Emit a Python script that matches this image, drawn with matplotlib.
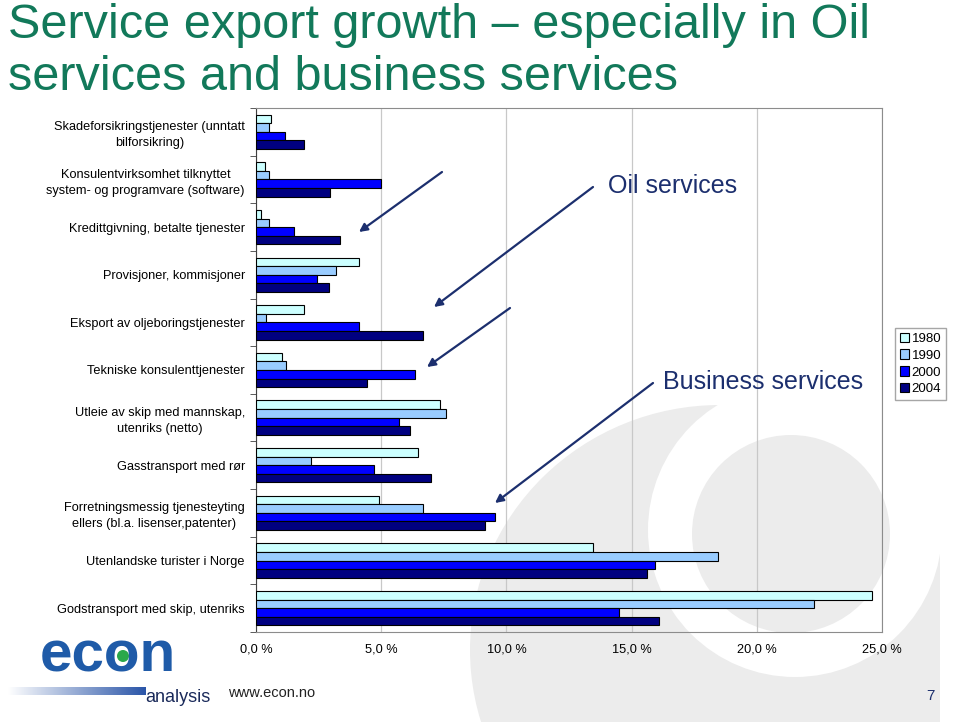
import matplotlib.pyplot as plt
import numpy as np
from matplotlib.patches import Ellipse, Circle, Patch, Rectangle
from matplotlib.colors import LinearSegmentedColormap

plt.rcParams["font.family"] = ["Liberation Sans", "DejaVu Sans"]

# data (share of service exports, %)
categories = [
    "Skadeforsikringstjenester (unntatt\nbilforsikring)",
    "Konsulentvirksomhet tilknyttet\nsystem- og programvare (software)",
    "Kredittgivning, betalte tjenester",
    "Provisjoner, kommisjoner",
    "Eksport av oljeboringstjenester",
    "Tekniske konsulenttjenester",
    "Utleie av skip med mannskap,\nutenriks (netto)",
    "Gasstransport med rør",
    "Forretningsmessig tjenesteyting\nellers (bl.a. lisenser,patenter)",
    "Utenlandske turister i Norge",
    "Godstransport med skip, utenriks",
]
years = ["1980", "1990", "2000", "2004"]
v1980 = [0.6, 0.35, 0.2, 4.1, 1.9, 1.05, 7.35, 6.45, 4.9, 13.45, 24.6]
v1990 = [0.5, 0.5, 0.5, 3.2, 0.4, 1.2, 7.6, 2.2, 6.65, 18.45, 22.3]
v2000 = [1.15, 5.0, 1.5, 2.45, 4.1, 6.35, 5.7, 4.7, 9.55, 15.95, 14.5]
v2004 = [1.9, 2.95, 3.35, 2.9, 6.65, 4.45, 6.15, 7.0, 9.15, 15.6, 16.1]
xticks = [0, 5, 10, 15, 20, 25]
xticklabels = ["0,0 %", "5,0 %", "10,0 %", "15,0 %", "20,0 %", "25,0 %"]

colors = ["#CCFFFF", "#99CCFF", "#0000FF", "#000080"]
navy = "#1C2F6E"

fig = plt.figure(figsize=(9.6, 7.22), dpi=100)

# background layer in pixel coordinates (watermark, logo, title)
bg = fig.add_axes([0, 0, 1, 1], zorder=-1)
bg.set_xlim(0, 960)
bg.set_ylim(722, 0)
bg.axis("off")
wm = "#ECECEC"
clip = Rectangle((0, 0), 940, 722, transform=bg.transData)
outer = Ellipse((720, 650), 500, 490, color=wm, lw=0)
bg.add_patch(outer)
outer.set_clip_path(clip)
bg.add_patch(Circle((795, 530), 147, color="white", lw=0))
bg.add_patch(Circle((791, 534), 99, color=wm, lw=0))

bg.text(8, 25, "Service export growth \u2013 especially in Oil", fontsize=35,
        color="#12795A", va="center", ha="left")
bg.text(8, 77, "services and business services", fontsize=35,
        color="#12795A", va="center", ha="left")

# logo
grad = np.linspace(0, 1, 256).reshape(1, -1)
cmap = LinearSegmentedColormap.from_list("g", ["white", "#2A55A8"])
bg.imshow(grad, extent=(8, 146, 695, 687), cmap=cmap, aspect="auto")
bg.text(40, 672, "econ", fontsize=42, fontweight="bold", color="#1F5BA8",
        va="baseline", ha="left")
bg.add_patch(Circle((123, 656), 6, color="#2AA84A", lw=0))
bg.text(211, 702, "analysis", fontsize=13, color="#1A2A5A",
        va="baseline", ha="right")
bg.text(228, 697, "www.econ.no", fontsize=10.5, color="#222222",
        va="baseline", ha="left")
bg.text(930, 700, "7", fontsize=11, color=navy, va="baseline", ha="center")

# main chart
ax = fig.add_axes([256 / 960, 1 - 632 / 722, 626 / 960, 524 / 722])
ax.set_facecolor("none")
y = np.arange(len(categories))
h = 0.18
for j, (vals, c) in enumerate(zip([v1980, v1990, v2000, v2004], colors)):
    ax.barh(y + (j - 1.5) * h, vals, height=h, color=c, edgecolor="black",
            linewidth=0.8, label=years[j], zorder=3)

ax.set_xlim(0, 25)
ax.set_ylim(len(categories) - 0.5, -0.5)
ax.set_xticks(xticks)
ax.set_xticklabels(xticklabels, fontsize=9.2)
ax.set_yticks(y)
ax.set_yticklabels(categories, fontsize=9.2, multialignment="center",
                   linespacing=1.4)
ax.set_yticks(np.arange(-0.5, len(categories)), minor=True)
ax.tick_params(axis="y", which="major", length=0, pad=8)
ax.tick_params(axis="y", which="minor", length=4, color="#404040")
ax.tick_params(axis="x", length=0, pad=8)
ax.grid(axis="x", color="#C8C8C8", linewidth=0.9, zorder=0)
ax.set_axisbelow(True)
for s in ["top", "right", "bottom"]:
    ax.spines[s].set_color("#8C8C8C")
ax.spines["left"].set_color("#404040")

handles = [Patch(facecolor=c, edgecolor="black", linewidth=0.8) for c in colors]
fig.legend(handles, years, loc="upper left",
           bbox_to_anchor=(895 / 960, 1 - 328 / 722), fontsize=9.5,
           frameon=True, fancybox=False, edgecolor="#909090",
           handlelength=0.7, handleheight=0.7, handletextpad=0.2,
           labelspacing=0.35, borderpad=0.35, borderaxespad=0)

# overlay for annotations
ov = fig.add_axes([0, 0, 1, 1], zorder=5)
ov.set_xlim(0, 960)
ov.set_ylim(722, 0)
ov.axis("off")
ov.text(608, 186, "Oil services", fontsize=18, color=navy, va="center",
        ha="left")
ov.text(663, 382, "Business services", fontsize=18, color=navy,
        va="center", ha="left")
arrows = [((442, 172), (359, 232)), ((593, 187), (434, 307)),
          ((510, 308), (427, 367)), ((653, 383), (495, 503))]
for start, end in arrows:
    ov.annotate("", xy=end, xytext=start,
                arrowprops=dict(arrowstyle="-|>", color=navy, lw=1.6,
                                mutation_scale=12, shrinkA=0, shrinkB=0))

fig.savefig("out.png", dpi=100)
